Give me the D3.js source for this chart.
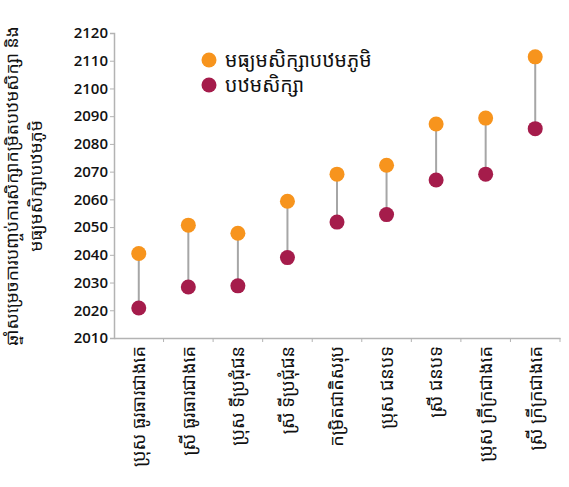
<!DOCTYPE html>
<html>
<head>
<meta charset="utf-8">
<script src="https://cdn.jsdelivr.net/npm/d3@7"></script>
<style>
  body { margin: 0; background: #fff; }
  svg { display: block; }
  text { fill: #111; }
</style>
</head>
<body>
<div id="chart"></div>
<script>
const categories = [
  "ប្រុស ធូរធារជាងគេ",
  "ស្រី ធូរធារជាងគេ",
  "ប្រុស ទីប្រជុំជន",
  "ស្រី ទីប្រជុំជន",
  "កម្រិតជាតិសរុប",
  "ប្រុស ជនបទ",
  "ស្រី ជនបទ",
  "ប្រុស ក្រីក្រជាងគេ",
  "ស្រី ក្រីក្រជាងគេ"
];
const lowerSecondary = [2040.5, 2050.7, 2047.8, 2059.3, 2069.1, 2072.3, 2087.2, 2089.3, 2111.4];
const primary = [2020.8, 2028.4, 2028.8, 2039.0, 2051.8, 2054.5, 2067.0, 2069.1, 2085.5];
const yTicks = [2010, 2020, 2030, 2040, 2050, 2060, 2070, 2080, 2090, 2100, 2110, 2120];
const seriesNames = ["មធ្យមសិក្សាបឋមភូមិ", "បឋមសិក្សា"];
const seriesColors = ["#F7941D", "#A51C4B"];
const yTitleLines = ["ឆ្នាំសម្រេចការបញ្ចប់ការសិក្សាកម្រិតបឋមសិក្សា និង", "មធ្យមសិក្សាបឋមភូមិ"];

const W = 569, H = 487;
const margin = {left: 114, right: 9, top: 33, bottom: 149};
const svg = d3.select("#chart").append("svg").attr("width", W).attr("height", H);

const x = d3.scaleBand().domain(categories).range([margin.left, W - margin.right]);
const y = d3.scaleLinear().domain([2010, 2120]).range([H - margin.bottom, margin.top]);

const khmerFont = "'Noto Sans Khmer', 'Khmer OS', 'Noto Sans', sans-serif";
const numFont = "'Open Sans', 'Noto Sans', sans-serif";

// y axis
const yAxis = svg.append("g")
  .attr("transform", `translate(${margin.left},0)`)
  .call(d3.axisLeft(y).tickValues(yTicks).tickFormat(d3.format("d")).tickSize(4).tickPadding(2));
yAxis.select(".domain").attr("stroke", "#b3b3b3").attr("stroke-width", 1.5);
yAxis.selectAll(".tick line").attr("stroke", "#b3b3b3");
yAxis.selectAll(".tick text").attr("font-family", numFont).attr("font-size", 15).attr("font-weight", 600).attr("fill", "#111");

// x axis
const xAxis = svg.append("g")
  .attr("transform", `translate(0,${H - margin.bottom})`)
  .call(d3.axisBottom(x).tickSize(0).tickPadding(0));
xAxis.select(".domain").attr("stroke", "#b3b3b3").attr("stroke-width", 1.5);
xAxis.selectAll(".tick text")
  .attr("font-family", khmerFont)
  .attr("font-size", 18)
  .attr("fill", "#111")
  .attr("text-anchor", "end")
  .attr("dy", "0.35em")
  .attr("transform", "translate(0,8) rotate(-90)");
// boundary ticks
xAxis.selectAll(".bound").data(categories).enter().append("line")
  .attr("class", "bound")
  .attr("x1", d => x(d) + x.bandwidth()).attr("x2", d => x(d) + x.bandwidth())
  .attr("y1", 0).attr("y2", 4)
  .attr("stroke", "#b3b3b3");

// connectors
const cx = d => x(d) + x.bandwidth() / 2;
svg.append("g").selectAll("line").data(categories).enter().append("line")
  .attr("x1", cx).attr("x2", cx)
  .attr("y1", (d, i) => y(lowerSecondary[i]))
  .attr("y2", (d, i) => y(primary[i]))
  .attr("stroke", "#a6a6a6").attr("stroke-width", 2);

// dots
[lowerSecondary, primary].forEach((vals, s) => {
  svg.append("g").selectAll("circle").data(categories).enter().append("circle")
    .attr("cx", cx)
    .attr("cy", (d, i) => y(vals[i]))
    .attr("r", 7.5)
    .attr("fill", seriesColors[s]);
});

// legend
const legend = svg.append("g").attr("transform", "translate(209,60)");
seriesNames.forEach((n, i) => {
  legend.append("circle").attr("cx", 0).attr("cy", i * 25).attr("r", 7.5).attr("fill", seriesColors[i]);
  legend.append("text").attr("x", 16).attr("y", i * 25).attr("dy", "0.35em")
    .attr("font-family", khmerFont).attr("font-size", 19.5).text(n);
});

// y title
const yt = svg.append("text")
  .attr("transform", "translate(12,186) rotate(-90)")
  .attr("text-anchor", "middle")
  .attr("font-family", khmerFont)
  .attr("font-size", 17.5);
yTitleLines.forEach((l, i) => {
  yt.append("tspan").attr("x", 0).attr("dy", i === 0 ? "0.35em" : "1.35em").text(l);
});
</script>
</body>
</html>
